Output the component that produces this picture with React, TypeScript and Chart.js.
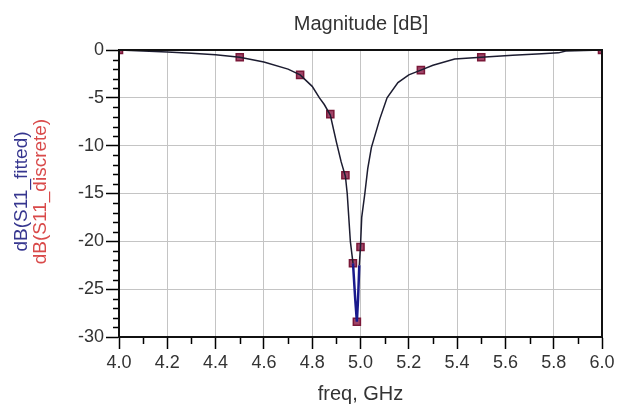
import React, { useEffect, useRef } from "react";
import { Chart, registerables } from "chart.js";

Chart.register(...registerables);

// Fitted trace (freq GHz, dB)
const fittedFreq = [
  4.0, 4.1, 4.2, 4.3, 4.4, 4.5, 4.6, 4.7, 4.75, 4.8, 4.83, 4.85, 4.875, 4.9, 4.92,
  4.9375, 4.945, 4.958, 4.969, 4.978, 4.985, 4.99, 4.995, 5.0, 5.005, 5.018, 5.03,
  5.045, 5.08, 5.11, 5.155, 5.2, 5.25, 5.3, 5.39, 5.5, 5.63, 5.75, 5.82, 5.85, 6.0,
];
const fittedDb = [
  0, -0.1, -0.2, -0.35, -0.5, -0.75, -1.25, -2.0, -2.6, -3.8, -5.0, -5.7, -6.8, -9.6,
  -11.7, -13.2, -15.0, -20.0, -22.3, -26.0, -28.4, -26.0, -22.5, -20.5, -17.5, -15.0,
  -12.4, -10.2, -7.2, -5.0, -3.4, -2.6, -2.1, -1.6, -0.95, -0.75, -0.55, -0.4, -0.3, -0.1, 0,
];

// Discrete samples
const discreteFreq = [4.0, 4.5, 4.75, 4.875, 4.9375, 4.96875, 4.985, 5.0, 5.25, 5.5, 6.0];
const discreteDb = [0, -0.75, -2.6, -6.7, -13.1, -22.3, -28.4, -20.6, -2.1, -0.75, 0];

const xMin = 4.0;
const xMax = 6.0;
const xMajorStep = 0.2;
const xMinorStep = 0.1;
const yMin = -30;
const yMax = 0;
const yMajorStep = 5;
const yMinorStep = 1;

const titleText = "Magnitude [dB]";
const xTitle = "freq, GHz";
const yTitleFitted = "dB(S11_fitted)";
const yTitleDiscrete = "dB(S11_discrete)";

const FONT = "'Liberation Sans', Arial, sans-serif";

const decorPlugin = {
  id: "decor",
  afterDraw(chart: any) {
    const ctx = chart.ctx;
    const { left, right, top, bottom } = chart.chartArea;
    const xs = chart.scales.x;
    const ys = chart.scales.y;
    ctx.save();
    // minor ticks
    ctx.strokeStyle = "#000";
    ctx.lineWidth = 1.5;
    ctx.beginPath();
    const nx = Math.round((xMax - xMin) / xMinorStep);
    for (let i = 0; i <= nx; i++) {
      if (i % 2 === 0) continue;
      const px = Math.round(xs.getPixelForValue(xMin + i * xMinorStep)) + 0.5;
      ctx.moveTo(px, bottom);
      ctx.lineTo(px, bottom + 7);
    }
    const ny = Math.round((yMax - yMin) / yMinorStep);
    for (let i = 0; i <= ny; i++) {
      if (i % 5 === 0) continue;
      const py = Math.round(ys.getPixelForValue(yMin + i * yMinorStep)) + 0.5;
      ctx.moveTo(left, py);
      ctx.lineTo(left - 6, py);
    }
    ctx.stroke();
    // frame
    ctx.lineWidth = 2;
    ctx.strokeStyle = "#111";
    ctx.beginPath();
    ctx.moveTo(left, top);
    ctx.lineTo(right, top);
    ctx.lineTo(right, bottom);
    ctx.stroke();
    ctx.beginPath();
    ctx.moveTo(left, top);
    ctx.lineTo(left, bottom);
    ctx.lineTo(right, bottom);
    ctx.stroke();
    // titles
    const cx = (left + right) / 2;
    ctx.fillStyle = "#333";
    ctx.textAlign = "center";
    ctx.textBaseline = "middle";
    ctx.font = `20px ${FONT}`;
    ctx.fillText(titleText, cx + 0.5, 24);
    ctx.fillText(xTitle, cx, 394);
    const cy = (top + bottom) / 2 - 2;
    ctx.font = `19px ${FONT}`;
    ctx.save();
    ctx.translate(22, cy);
    ctx.rotate(-Math.PI / 2);
    ctx.fillStyle = "#36368f";
    ctx.fillText(yTitleFitted, 0, 0);
    ctx.restore();
    ctx.save();
    ctx.translate(41, cy);
    ctx.rotate(-Math.PI / 2);
    ctx.fillStyle = "#d94a4a";
    ctx.fillText(yTitleDiscrete, 0, 0);
    ctx.restore();
    ctx.restore();
  },
};

export default function App() {
  const ref = useRef<HTMLCanvasElement | null>(null);
  useEffect(() => {
    if (!ref.current) return;
    const fitted = fittedFreq.map((f, i) => ({ x: f, y: fittedDb[i] }));
    const discrete = discreteFreq.map((f, i) => ({ x: f, y: discreteDb[i] }));
    const chart = new Chart(ref.current, {
      type: "line",
      data: {
        datasets: [
          {
            label: yTitleFitted,
            data: fitted,
            borderColor: "#1c1c30",
            borderWidth: 1.5,
            pointRadius: 0,
            tension: 0,
            segment: {
              borderColor: (c: any) =>
                c.p0.parsed.y < -25.5 || c.p1.parsed.y < -25.5 ? "#1a1a8c" : undefined,
              borderWidth: (c: any) =>
                c.p0.parsed.y < -25.5 || c.p1.parsed.y < -25.5 ? 2.5 : undefined,
            },
          } as any,
          {
            label: yTitleDiscrete,
            data: discrete,
            showLine: false,
            pointStyle: "rect",
            pointRadius: 5,
            borderWidth: 1.5,
            borderColor: "#7a1838",
            backgroundColor: "#a04468",
          },
        ],
      },
      options: {
        responsive: false,
        animation: false,
        events: [],
        layout: { padding: { top: 50, right: 22, left: 0, bottom: 0 } },
        plugins: {
          legend: { display: false },
          title: { display: false },
          tooltip: { enabled: false },
        },
        scales: {
          x: {
            type: "linear",
            min: xMin,
            max: xMax,
            afterFit: (s: any) => {
              s.height = 68;
              s.paddingLeft = 0;
              s.paddingRight = 0;
            },
            ticks: {
              stepSize: xMajorStep,
              autoSkip: false,
              maxRotation: 0,
              padding: 3,
              color: "#333",
              font: { family: FONT, size: 18 },
              callback: (v: any) => Number(v).toFixed(1),
            },
            grid: {
              color: "#c4c4c4",
              lineWidth: 1,
              tickColor: "#000",
              tickLength: 12,
              tickWidth: 1.5,
            },
            border: { display: true, color: "#000", width: 2 },
          },
          y: {
            type: "linear",
            min: yMin,
            max: yMax,
            afterFit: (s: any) => {
              s.width = 119;
              s.paddingTop = 0;
              s.paddingBottom = 0;
            },
            ticks: {
              stepSize: yMajorStep,
              padding: 2,
              color: "#333",
              font: { family: FONT, size: 18 },
            },
            grid: {
              color: "#c4c4c4",
              lineWidth: 1,
              tickColor: "#000",
              tickLength: 13,
              tickWidth: 1.5,
            },
            border: { display: true, color: "#000", width: 2 },
          },
        },
      },
      plugins: [decorPlugin],
    });
    return () => chart.destroy();
  }, []);
  return (
    <div style={{ position: "absolute", left: 0, top: 0, width: 624, height: 405, background: "#fff" }}>
      <canvas ref={ref} width={624} height={405} style={{ display: "block" }} />
    </div>
  );
}
